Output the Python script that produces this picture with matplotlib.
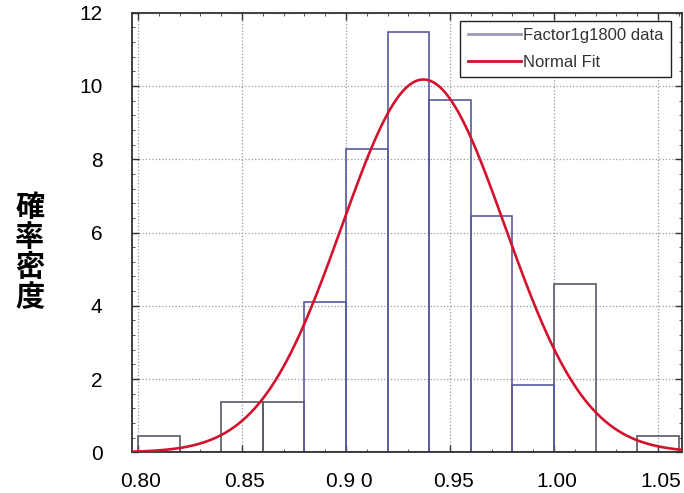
import numpy as np
import matplotlib
matplotlib.use("Agg")
import matplotlib.pyplot as plt
from matplotlib.lines import Line2D
from matplotlib.ticker import AutoMinorLocator
from matplotlib import font_manager
import matplotlib.transforms as mtransforms

# ---- data ----
bin_edges_left = [0.80, 0.82, 0.84, 0.86, 0.88, 0.90, 0.92, 0.94, 0.96, 0.98, 1.00, 1.02, 1.04]
bin_width = 0.02
density = [0.45, 0.0, 1.37, 1.37, 4.11, 8.27, 11.47, 9.63, 6.45, 1.84, 4.59, 0.0, 0.45]
fit_mu = 0.9372
fit_sigma = 0.0392
x_ticks = [0.80, 0.85, 0.90, 0.95, 1.00, 1.05]
x_ticklabels = ["0.80", "0.85", "0.9 0", "0.95", "1.00", "1.05"]
y_ticks = [0, 2, 4, 6, 8, 10, 12]
y_label = "確率密度"
legend_labels = ["Factor1g1800 data", "Normal Fit"]

# edge style per bar: bluish for the central bins, grey elsewhere
bar_is_blue = [False, False, False, False, True, True, True, True, True, True, False, False, False]

W, H = 684, 493
fig = plt.figure(figsize=(W / 100, H / 100), dpi=100)
ax = fig.add_axes([131.7 / W, 1 - 452.3 / H, (682 - 131.7) / W, (452.3 - 12.7) / H])

grey_x = [x for x, b in zip(bin_edges_left, bar_is_blue) if not b]
grey_h = [h for h, b in zip(density, bar_is_blue) if not b]
blue_x = [x for x, b in zip(bin_edges_left, bar_is_blue) if b]
blue_h = [h for h, b in zip(density, bar_is_blue) if b]
ax.bar(grey_x, grey_h, width=bin_width, align="edge",
       facecolor="none", edgecolor="#595966", linewidth=1.2, zorder=2)
ax.bar(blue_x, blue_h, width=bin_width, align="edge",
       facecolor="none", edgecolor="#5a5a9e", linewidth=1.2, zorder=2.1)

xs = np.linspace(0.797, 1.0615, 400)
pdf = np.exp(-0.5 * ((xs - fit_mu) / fit_sigma) ** 2) / (fit_sigma * np.sqrt(2 * np.pi))
ax.plot(xs, pdf, color="#d3132e", linewidth=1.9, zorder=3)

ax.set_xlim(0.797, 1.0615)
ax.set_ylim(0, 12)
ax.set_xticks(x_ticks)
ax.set_xticklabels(x_ticklabels)
ax.set_yticks(y_ticks)
ax.xaxis.set_minor_locator(AutoMinorLocator(5))
ax.yaxis.set_minor_locator(AutoMinorLocator(5))
ax.grid(True, which="major", linestyle=":", color="#9a9a9a", linewidth=0.9, zorder=0)
ax.tick_params(which="both", direction="in", top=True, right=True, colors="#333333")
ax.tick_params(which="major", length=5, width=1.0, labelcolor="black", labelsize=15)
ax.tick_params(axis="x", which="major", pad=14)
ax.tick_params(axis="y", which="major", pad=21)
ax.tick_params(which="minor", length=2.5, width=0.6)
shift = mtransforms.ScaledTranslation(3 / 100, 0, fig.dpi_scale_trans)
for lab in ax.get_xticklabels():
    lab.set_fontfamily("Liberation Sans")
    lab.set_transform(lab.get_transform() + shift)
for lab in ax.get_yticklabels():
    lab.set_fontfamily("Liberation Sans")
for s in ax.spines.values():
    s.set_color("#333333")
    s.set_linewidth(1.3)

fig.text(30 / W, 1 - 252 / H, "\n".join(y_label), ha="center", va="center",
         fontsize=21, linespacing=1.0, fontweight="bold",
         family=["Noto Sans CJK JP", "DejaVu Sans"])

# legend font: narrow face if installed, else regular at a smaller size
try:
    font_manager.findfont(font_manager.FontProperties(family="Liberation Sans Narrow"),
                          fallback_to_default=False)
    leg_prop = {"family": "Liberation Sans Narrow", "size": 13}
except Exception:
    leg_prop = {"family": "Liberation Sans", "size": 12}

handles = [Line2D([], [], color="#9a9ab4", linewidth=2.0),
           Line2D([], [], color="#d3132e", linewidth=2.0)]
leg = ax.legend(handles, legend_labels, loc="upper right",
                bbox_to_anchor=(670.7 / W, 1 - 20.7 / H), bbox_transform=fig.transFigure,
                borderaxespad=0, fancybox=False, framealpha=1, edgecolor="#222222",
                handlelength=3.2, handletextpad=0.1, borderpad=0.45, labelspacing=0.7,
                prop=leg_prop)
leg.get_frame().set_linewidth(1.0)
for t in leg.get_texts():
    t.set_color("#333333")

fig.savefig("out.png", dpi=100)
